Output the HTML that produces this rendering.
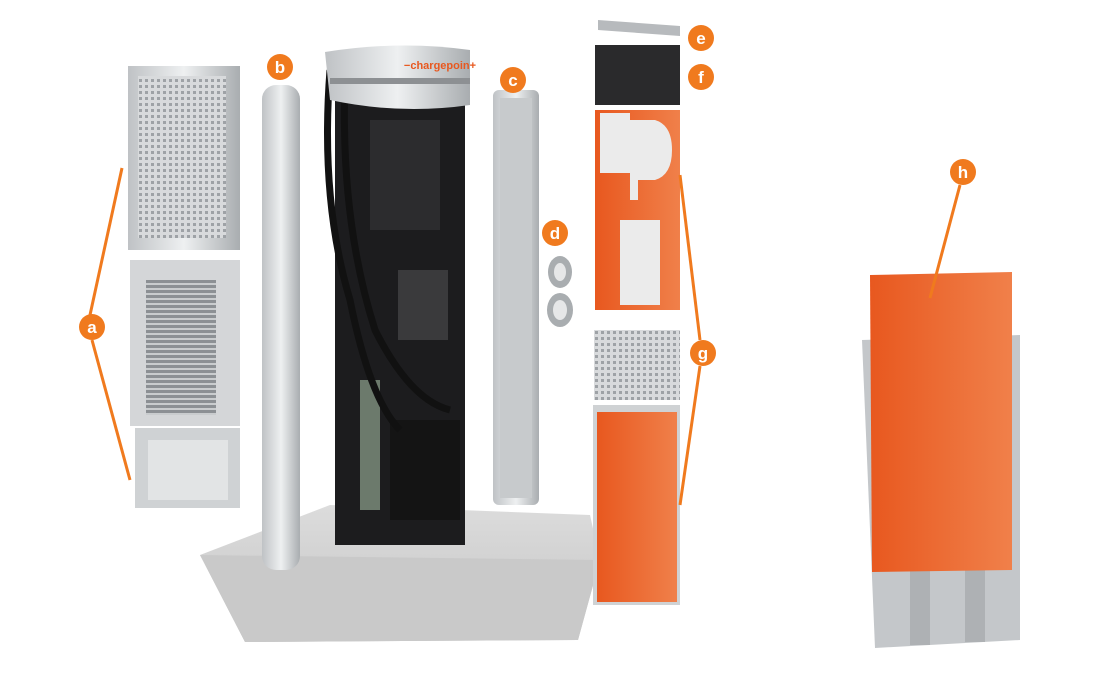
<!DOCTYPE html>
<html><head><style>
body{margin:0;width:1104px;height:678px;background:#fff;overflow:hidden;font-family:"Liberation Sans",sans-serif}
svg{display:block}
</style></head><body>
<svg width="1104" height="678" viewBox="0 0 1104 678">
<defs>
<linearGradient id="gr" x1="0" x2="1"><stop offset="0" stop-color="#bfc2c5"/><stop offset=".5" stop-color="#eef0f1"/><stop offset="1" stop-color="#a9adb0"/></linearGradient>
<linearGradient id="or" x1="0" x2="1"><stop offset="0" stop-color="#e8581f"/><stop offset="1" stop-color="#f0804a"/></linearGradient>
<linearGradient id="con" x1="0" y1="0" x2="0" y2="1"><stop offset="0" stop-color="#dcdcdc"/><stop offset="1" stop-color="#c4c4c4"/></linearGradient>
<pattern id="grid" width="6" height="6" patternUnits="userSpaceOnUse"><rect width="6" height="6" fill="#d8dadc"/><rect x="1" y="1" width="3" height="3" fill="#9ea2a6"/></pattern>
<pattern id="slat" width="6" height="5" patternUnits="userSpaceOnUse"><rect width="6" height="5" fill="#8c9094"/><rect y="3" width="6" height="2" fill="#c9ccce"/></pattern>
</defs>
<!-- concrete base -->
<polygon points="200,555 330,505 590,515 600,560 578,640 245,642" fill="url(#con)"/>
<polygon points="200,555 600,560 578,640 245,642" fill="#c9c9c9"/>
<!-- a panels -->
<rect x="128" y="66" width="112" height="184" fill="url(#gr)"/>
<rect x="138" y="76" width="88" height="162" fill="url(#grid)"/>
<rect x="130" y="260" width="110" height="166" fill="#d4d6d8"/>
<rect x="146" y="280" width="70" height="135" fill="url(#slat)"/>
<rect x="135" y="428" width="105" height="80" fill="#cfd2d4"/>
<rect x="148" y="440" width="80" height="60" fill="#e2e4e5"/>
<!-- b column -->
<rect x="262" y="85" width="38" height="485" rx="14" fill="url(#gr)"/>
<!-- charger -->
<rect x="335" y="100" width="130" height="445" fill="#1c1c1e"/>
<rect x="370" y="120" width="70" height="110" fill="#2c2c2e"/>
<rect x="398" y="270" width="50" height="70" fill="#3a3a3c"/>
<rect x="360" y="380" width="20" height="130" fill="#6c7a6c"/>
<rect x="390" y="420" width="70" height="100" fill="#141414"/>
<path d="M330 70 Q320 200 350 300 Q370 400 400 430" stroke="#111" stroke-width="7" fill="none"/>
<path d="M345 80 Q340 220 375 330 Q410 400 450 410" stroke="#111" stroke-width="7" fill="none"/>
<path d="M325 52 Q400 40 470 50 L470 105 Q400 115 330 100 Z" fill="url(#gr)"/>
<rect x="330" y="78" width="140" height="6" fill="#8d9093"/>
<text x="440" y="69" font-size="11" font-weight="bold" fill="#e8581f" text-anchor="middle">−chargepoin+</text>
<!-- c column -->
<rect x="493" y="90" width="46" height="415" rx="6" fill="url(#gr)"/>
<rect x="500" y="98" width="32" height="400" fill="#c7cacc"/>
<!-- d parts -->
<ellipse cx="560" cy="272" rx="12" ry="16" fill="#a9adb0"/>
<ellipse cx="560" cy="272" rx="6" ry="9" fill="#e6e7e8"/>
<ellipse cx="560" cy="310" rx="13" ry="17" fill="#a9adb0"/>
<ellipse cx="560" cy="310" rx="7" ry="10" fill="#e6e7e8"/>
<!-- e f -->
<polygon points="598,20 680,26 680,36 598,30" fill="#b7babd"/>
<rect x="595" y="45" width="85" height="60" fill="#2a2a2c"/>
<!-- g top -->
<rect x="595" y="110" width="85" height="200" fill="url(#or)"/>
<rect x="600" y="113" width="30" height="60" fill="#ebebeb"/>
<path d="M630 120 H655 Q672 125 672 150 Q672 175 655 180 H638 V200 H630 Z" fill="#ebebeb"/>
<rect x="620" y="220" width="40" height="85" fill="#ebebeb"/>
<rect x="594" y="330" width="86" height="70" fill="url(#grid)"/>
<rect x="593" y="405" width="87" height="200" fill="#cfd2d4"/>
<rect x="597" y="412" width="80" height="190" fill="url(#or)"/>
<!-- h -->
<polygon points="862,340 1020,335 1020,640 875,648" fill="#c4c7ca"/>
<rect x="910" y="560" width="20" height="85" fill="#aeb1b4"/>
<rect x="965" y="560" width="20" height="82" fill="#aeb1b4"/>
<polygon points="870,275 1012,272 1012,570 872,572" fill="url(#or)"/>
<!-- lines -->
<g stroke="#f07a1e" stroke-width="3" fill="none">
<line x1="122" y1="168" x2="90" y2="315"/>
<line x1="92" y1="340" x2="130" y2="480"/>
<line x1="680" y1="175" x2="700" y2="340"/>
<line x1="700" y1="366" x2="680" y2="505"/>
<line x1="960" y1="185" x2="930" y2="298"/>
</g>
<g font-size="17" font-weight="bold" fill="#fff" text-anchor="middle">
<circle cx="92" cy="327" r="13" fill="#f07a1e"/><text x="92" y="333">a</text>
<circle cx="280" cy="67" r="13" fill="#f07a1e"/><text x="280" y="73">b</text>
<circle cx="513" cy="80" r="13" fill="#f07a1e"/><text x="513" y="86">c</text>
<circle cx="555" cy="233" r="13" fill="#f07a1e"/><text x="555" y="239">d</text>
<circle cx="701" cy="38" r="13" fill="#f07a1e"/><text x="701" y="44">e</text>
<circle cx="701" cy="77" r="13" fill="#f07a1e"/><text x="701" y="83">f</text>
<circle cx="703" cy="353" r="13" fill="#f07a1e"/><text x="703" y="359">g</text>
<circle cx="963" cy="172" r="13" fill="#f07a1e"/><text x="963" y="178">h</text>
</g>
</svg>
</body></html>
